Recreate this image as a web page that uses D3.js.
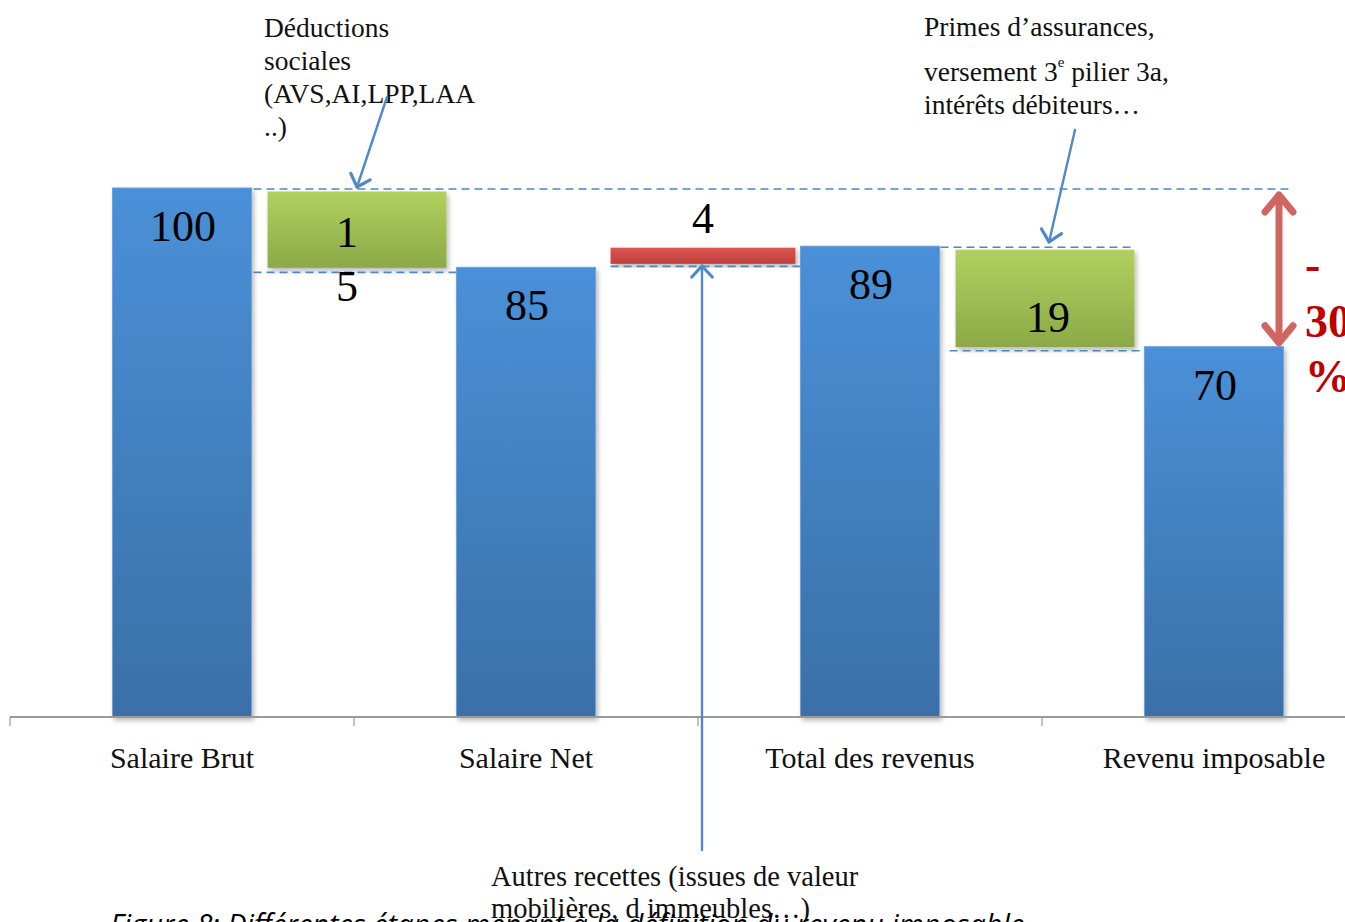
<!DOCTYPE html>
<html><head><meta charset="utf-8">
<script src="https://cdn.jsdelivr.net/npm/d3@7"></script>
<style>
html,body{margin:0;padding:0;background:#fff;overflow:hidden}
svg{display:block}
.serif{font-family:"Liberation Serif","DejaVu Serif",serif}
</style></head>
<body>
<svg id="c" width="1345" height="922"></svg>
<script>
// ---- data ----
const categories = ["Salaire Brut", "Salaire Net", "Total des revenus", "Revenu imposable"];
const totals = [100, 85, 89, 70];
const stepValues = [-15, 4, -19];
const stepLabels = ["15", "4", "19"];
const stepKinds = ["minus", "plus", "minus"];
const noteDeductions = ["Déductions", "sociales", "(AVS,AI,LPP,LAA", "..)"];
const notePrimes = ["Primes d’assurances,", "versement 3|e| pilier 3a,", "intérêts débiteurs…"];
const noteAutres = ["Autres recettes (issues de valeur", "mobilières, d immeubles…)"];
const diffLabel = ["-", "30", "%"];
const caption = "Figure 8: Différentes étapes menant à la définition du revenu imposable";

const svg = d3.select("#c");
const defs = svg.append("defs");
function grad(id, c1, c2){
  const g = defs.append("linearGradient").attr("id", id).attr("x1",0).attr("y1",0).attr("x2",0).attr("y2",1);
  g.append("stop").attr("offset","0%").attr("stop-color",c1);
  g.append("stop").attr("offset","100%").attr("stop-color",c2);
}
grad("gBlue", "#4a90d8", "#3a70a7");
grad("gGreen", "#b0d15f", "#8ca947");
grad("gRed", "#dc5550", "#bf403c");
const f = defs.append("filter").attr("id","sh").attr("x","-10%").attr("y","-10%").attr("width","130%").attr("height","130%");
f.append("feDropShadow").attr("dx",2).attr("dy",3).attr("stdDeviation",2.5).attr("flood-color","#000").attr("flood-opacity",0.28);

const x = d3.scaleBand().domain(categories).range([10, 1386]).padding(0);
const y = d3.scaleLinear().domain([0, 100]).range([717, 188]);
const step = x.step();
const barW = step * 0.404;
const stepW = step * 0.52;
const cx = c => x(c) + step / 2;

// total bars
const gBars = svg.append("g");
gBars.selectAll("rect.tot").data(categories).join("rect")
  .attr("x", c => cx(c) - barW/2)
  .attr("y", (c,i) => y(totals[i]))
  .attr("width", barW)
  .attr("height", (c,i) => y(0) - y(totals[i]))
  .attr("fill", "url(#gBlue)")
  .attr("stroke", "#6fa3e0").attr("stroke-width", 1)
  .attr("filter", "url(#sh)");

// step bars (between categories)
const steps = stepValues.map((v, i) => {
  const start = totals[i];
  const end = start + v;
  return {v, i, lo: Math.min(start, end), hi: Math.max(start, end), kind: stepKinds[i], label: stepLabels[i],
          xc: x(categories[i + 1])};
});
gBars.selectAll("rect.step").data(steps).join("rect")
  .attr("x", d => d.xc - stepW/2 + (d.kind === "plus" ? 2 : 3))
  .attr("width", d => stepW + (d.kind === "plus" ? 6 : 0))
  .attr("y", d => y(d.hi) + (d.kind === "plus" ? 1.5 : 3.5))
  .attr("height", d => d.kind === "plus" ? (y(d.lo) - y(d.hi)) - 5 : (y(d.lo) - y(d.hi)) - 3)
  .attr("fill", d => d.kind === "plus" ? "url(#gRed)" : "url(#gGreen)")
  .attr("filter", "url(#sh)");

// dashed connectors
const dash = svg.append("g").attr("stroke", "#4f86c6").attr("stroke-width", 1.6).attr("stroke-dasharray", "8,5").attr("fill","none");
dash.append("line").attr("x1", cx(categories[0]) + barW/2 + 2).attr("x2", 1290).attr("y1", y(totals[0]) + 1).attr("y2", y(totals[0]) + 1);
dash.append("line").attr("x1", cx(categories[0]) + barW/2 + 2).attr("x2", cx(categories[1]) - barW/2).attr("y1", y(totals[1]) + 5).attr("y2", y(totals[1]) + 5);
dash.append("line").attr("x1", x(categories[2]) - stepW/2 + 2).attr("x2", cx(categories[2]) - barW/2).attr("y1", y(totals[1]) - 1).attr("y2", y(totals[1]) - 1);
dash.append("line").attr("x1", cx(categories[2]) + barW/2 + 1).attr("x2", x(categories[3]) + stepW/2 + 2).attr("y1", y(totals[2]) + 1).attr("y2", y(totals[2]) + 1);
dash.append("line").attr("x1", x(categories[3]) - stepW/2 - 3).attr("x2", cx(categories[3]) - barW/2).attr("y1", y(totals[3]) + 4).attr("y2", y(totals[3]) + 4);

// axis
const ax = svg.append("g").attr("stroke", "#999");
ax.append("line").attr("x1", 10).attr("x2", 1345).attr("y1", 717).attr("y2", 717).attr("stroke-width", 2);
ax.selectAll("line.tk").data(categories).join("line")
  .attr("x1", c => x(c)).attr("x2", c => x(c)).attr("y1", 717).attr("y2", 726).attr("stroke-width", 1.2);

// category labels
svg.append("g").selectAll("text").data(categories).join("text")
  .attr("class","serif").attr("x", c => cx(c)).attr("y", 768)
  .attr("text-anchor","middle").attr("font-size", 30).attr("fill","#111").text(c => c);

// total value labels
svg.append("g").selectAll("text").data(totals).join("text")
  .attr("class","serif").attr("x", (v,i) => cx(categories[i]) + 1).attr("y", v => y(v) + 53)
  .attr("text-anchor","middle").attr("font-size", 44).attr("fill","#000").text(v => v);

// step value labels
const stepG = svg.append("g").attr("class","serif").attr("font-size", 44).attr("fill","#000").attr("text-anchor","middle");
// first step wraps "15" on two lines
stepG.append("text").attr("x", steps[0].xc - 7).attr("y", y(steps[0].hi) + 59).text(steps[0].label[0]);
stepG.append("text").attr("x", steps[0].xc - 7).attr("y", y(steps[0].hi) + 113).text(steps[0].label[1]);
stepG.append("text").attr("x", steps[1].xc + 5).attr("y", y(steps[1].hi) - 13).text(steps[1].label);
stepG.append("text").attr("x", steps[2].xc + 6).attr("y", y(steps[2].hi) + 86).text(steps[2].label);

// annotations text
const ann = svg.append("g").attr("class","serif").attr("font-size", 27.5).attr("fill","#111");
noteDeductions.forEach((t, i) => ann.append("text").attr("x", 264).attr("y", 37 + i * 33).text(t));
[36, 81, 114].forEach((yy, i) => {
  const parts = notePrimes[i].split("|");
  const t = ann.append("text").attr("x", 924).attr("y", yy);
  if (parts.length === 1) t.text(parts[0]);
  else {
    t.append("tspan").text(parts[0]);
    t.append("tspan").attr("font-size", 15).attr("dy", -14).text(parts[1]);
    t.append("tspan").attr("dy", 14).text(parts[2]);
  }
});
noteAutres.forEach((t, i) => ann.append("text").attr("x", 491).attr("y", 886 + i * 32).attr("font-size", 28.5).text(t));

// caption
svg.append("text").attr("x", 110).attr("y", 935).attr("font-family", "'Open Sans','Liberation Sans',sans-serif")
  .attr("font-style","italic").attr("font-size", 29).attr("fill","#000").text(caption);

// blue arrows
function arrow(g, x1, y1, x2, y2, color, w, head){
  g.append("line").attr("x1",x1).attr("y1",y1).attr("x2",x2).attr("y2",y2)
    .attr("stroke",color).attr("stroke-width",w).attr("stroke-linecap","round");
  const a = Math.atan2(y2 - y1, x2 - x1);
  const spread = 0.75;
  const p = [[x2 - head*Math.cos(a - spread), y2 - head*Math.sin(a - spread)], [x2, y2], [x2 - head*Math.cos(a + spread), y2 - head*Math.sin(a + spread)]];
  g.append("path").attr("d", d3.line()(p)).attr("fill","none").attr("stroke",color)
    .attr("stroke-width", w + 0.8).attr("stroke-linecap","round").attr("stroke-linejoin","round");
}
const arr = svg.append("g");
arrow(arr, 387, 97, 357, 187, "#5089c8", 2.4, 15);
arrow(arr, 1075, 130, 1049, 242, "#5089c8", 2.4, 15);
arrow(arr, 702, 850, 702, 266, "#5089c8", 2.4, 15);

// red double arrow
const rx = 1279, ry1 = y(totals[0]) + 5, ry2 = y(totals[3]) - 2;
const rg = svg.append("g").attr("stroke", "#d1655f").attr("fill","none").attr("stroke-linecap","round").attr("stroke-linejoin","round");
rg.append("line").attr("x1", rx).attr("x2", rx).attr("y1", ry1 + 3).attr("y2", ry2 - 3).attr("stroke-width", 7);
rg.append("path").attr("d", d3.line()([[rx - 14, ry1 + 19], [rx, ry1 + 2], [rx + 14, ry1 + 19]])).attr("stroke-width", 7);
rg.append("path").attr("d", d3.line()([[rx - 14, ry2 - 19], [rx, ry2 - 2], [rx + 14, ry2 - 19]])).attr("stroke-width", 7);

// -30% label
const dl = svg.append("g").attr("class","serif").attr("font-size", 46).attr("font-weight","bold").attr("fill","#c00000");
[280, 337, 392].forEach((yy, i) => dl.append("text").attr("x", 1305).attr("y", yy).text(diffLabel[i]));
</script>
</body></html>
